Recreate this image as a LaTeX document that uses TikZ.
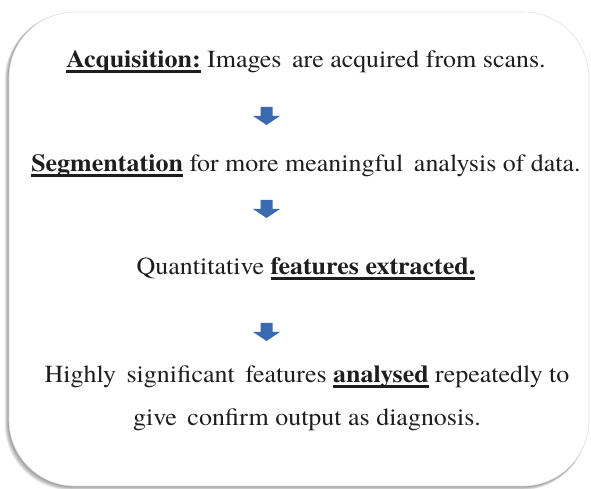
\documentclass[tikz,border=0pt]{standalone}
\usepackage{fontspec}
\IfFontExistsTF{texgyretermes-regular.otf}{%
  \setmainfont{texgyretermes}[Extension=.otf, UprightFont=*-regular, BoldFont=*-bold, ItalicFont=*-italic, BoldItalicFont=*-bolditalic, FakeStretch=1.06]}{%
  \setmainfont{Liberation Serif}[FakeStretch=1.06]}
\newcommand\myul[1]{\setbox0\hbox{#1}\leavevmode\rlap{\rule[-4.8pt]{\wd0}{2.3pt}}\box0\relax}
\definecolor{arrowblue}{RGB}{58,106,176}
\definecolor{txt}{RGB}{30,30,30}
\tikzset{
  line/.style={anchor=base, font=\fontsize{24.5}{28}\selectfont, text=txt, inner sep=0pt},
  downarrow/.style={fill=arrowblue},
}
\begin{document}
\begin{tikzpicture}[x=1pt,y=1pt]
\useasboundingbox (0,0) rectangle (591,489);
\begin{scope}
\clip (0,0) rectangle (591,489);
% soft shadow (left and bottom)
\foreach \k in {6,5,4,3,2,1}{
  \fill[black, opacity=0.08, rounded corners=66pt]
    ([shift={(-0.7*\k,-0.7*\k)}]9,3) rectangle ([shift={(-0.3*\k,-0.3*\k)}]589,477);
}
\fill[white, rounded corners=66pt] (9,3) rectangle (589,477);
\draw[black!12, line width=0.6pt, rounded corners=66pt] (9,3) rectangle (589,477);
\end{scope}
% text lines (baselines in pt from bottom)
\node[line] (l1) at (306,421) {\myul{\textbf{Acquisition:}} Images\, are acquired from scans.};
\node[line] (l2) at (306,317) {\myul{\textbf{Segmentation}} for more meaningful\, analysis of data.};
\node[line] (l3) at (306,214) {Quantitative \myul{\textbf{features extracted.}}};
\node[line] (l4) at (307,106) {Highly\, significant\, features \myul{\textbf{analysed}} repeatedly to};
\node[line] (l5) at (307,63) {give\, confirm output as diagnosis.};
% block arrows
\foreach \n/\yt in {a1/382, a2/289, a3/166}{
  \coordinate (\n) at (266.5,\yt);
  \fill[downarrow] ([shift={(-6,0)}]\n) -- ([shift={(6,0)}]\n) -- ([shift={(6,-9)}]\n)
    -- ([shift={(13.5,-9)}]\n) -- ([shift={(0,-18)}]\n) -- ([shift={(-13.5,-9)}]\n)
    -- ([shift={(-6,-9)}]\n) -- cycle;
}
\end{tikzpicture}
\end{document}
